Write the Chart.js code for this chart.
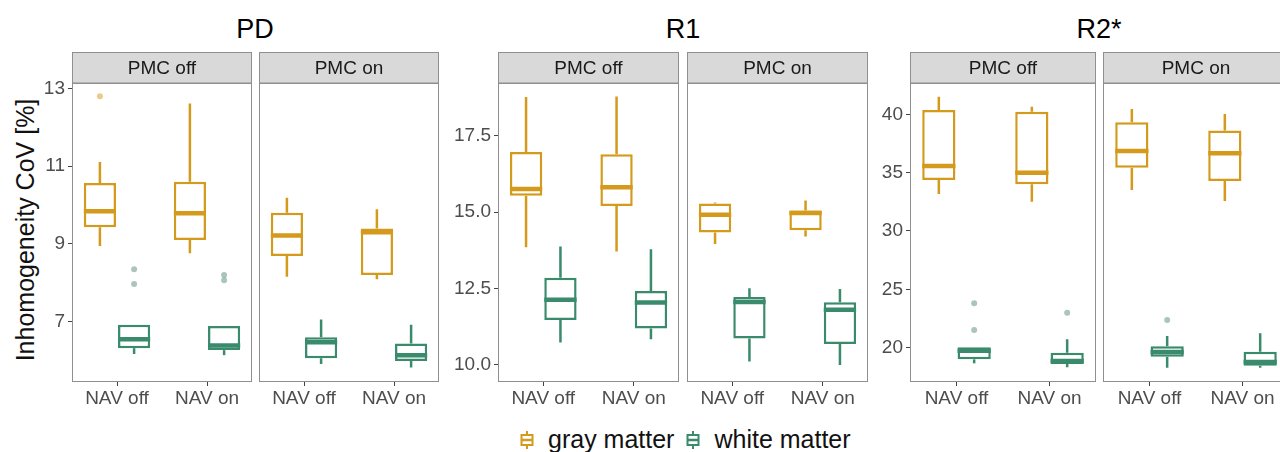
<!DOCTYPE html>
<html>
<head>
<meta charset="utf-8">
<script src="https://cdn.jsdelivr.net/npm/chart.js@4.4.1/dist/chart.umd.min.js"></script>
<style>
  html, body { margin: 0; padding: 0; background: #fff; overflow: hidden; }
  body { width: 1280px; height: 452px; position: relative; font-family: "Liberation Sans", Arial, sans-serif; }
  .panel { position: absolute; }
  .title { position: absolute; top: 14px; font-size: 27px; color: #000; transform: translateX(-50%); white-space: nowrap; }
  .ytitle { position: absolute; left: 25px; top: 230px; font-size: 25px; color: #111; white-space: nowrap;
            transform: translate(-50%, -50%) rotate(-90deg); }
  .legend { position: absolute; left: 520px; top: 425px; display: flex; align-items: center; font-size: 25px; color: #111; white-space: nowrap; }
  .legend svg { margin-right: 14px; }
  .legend span { margin-right: 12px; }
</style>
</head>
<body>
<div class="title" style="left:255px">PD</div>
<div class="title" style="left:683px">R1</div>
<div class="title" style="left:1099px">R2*</div>
<div class="ytitle">Inhomogeneity CoV [%]</div>
<div class="legend" id="legend"></div>

<script>
const categories = ['NAV off', 'NAV on'];
const facets = ['PMC off', 'PMC on'];
const seriesNames = ['gray matter', 'white matter'];
const seriesColors = ['#D49A1C', '#3A8A6C'];
const outlierColors = ['rgba(212,154,28,0.5)', 'rgba(90,140,120,0.5)'];

// box stats per category: [lower whisker, Q1, median, Q3, upper whisker]
const pdGrayPmcOff = [[8.95, 9.43, 9.84, 10.57, 11.11], [8.76, 9.10, 9.79, 10.60, 12.61]];
const pdWhitePmcOff = [[6.17, 6.32, 6.55, 6.92, 6.92], [6.14, 6.27, 6.39, 6.89, 6.89]];
const pdGrayPmcOn = [[8.16, 8.69, 9.22, 9.80, 10.19], [8.09, 8.20, 9.30, 9.40, 9.89]];
const pdWhitePmcOn = [[5.91, 6.06, 6.47, 6.60, 7.06], [5.82, 5.99, 6.14, 6.44, 6.92]];
const pdGrayOutPmcOff = [[12.80], []];
const pdWhiteOutPmcOff = [[8.35, 7.97], [8.20, 8.07]];

const r1GrayPmcOff = [[13.85, 15.53, 15.75, 16.96, 18.76], [13.71, 15.20, 15.81, 16.89, 18.78]];
const r1WhitePmcOff = [[10.73, 11.47, 12.13, 12.85, 13.87], [10.84, 11.19, 12.04, 12.42, 13.78]];
const r1GrayPmcOn = [[13.95, 14.33, 14.91, 15.28, 15.31], [14.20, 14.40, 14.97, 15.05, 15.38]];
const r1WhitePmcOn = [[10.11, 10.86, 12.06, 12.22, 12.51], [10.0, 10.68, 11.80, 12.05, 12.48]];

const r2GrayPmcOff = [[33.17, 34.37, 35.57, 40.37, 41.51], [32.51, 34.0, 35.0, 40.22, 40.65]];
const r2WhitePmcOff = [[18.66, 19.0, 19.74, 20.03, 20.03], [18.32, 18.60, 18.85, 19.57, 20.72]];
const r2GrayPmcOn = [[33.51, 35.42, 36.86, 39.31, 40.45], [32.57, 34.28, 36.66, 38.60, 40.03]];
const r2WhitePmcOn = [[18.29, 19.23, 19.63, 20.12, 21.0], [18.29, 18.45, 18.77, 19.66, 21.23]];
const r2WhiteOutPmcOff = [[23.80, 21.52], [23.0]];
const r2WhiteOutPmcOn = [[22.37], []];
const noOutliers = [[], []];

const pdTicks = [7, 9, 11, 13];
const r1Ticks = [10, 12.5, 15, 17.5];
const r2Ticks = [20, 25, 30, 35, 40];
const pdRange = [5.45, 13.14];
const r1Range = [9.44, 19.22];
const r2Range = [17.06, 42.68];

const AXIS_W = 60;
const PLOT_TOP = 52, PLOT_H = 330, XAXIS_H = 40;
const FONT = '"Liberation Sans", Arial, sans-serif';

const panels = [
  { left: 72, width: 180, facet: 0, axis: true, ticks: pdTicks, range: pdRange, dec: 0,
    stats: [pdGrayPmcOff, pdWhitePmcOff], outliers: [pdGrayOutPmcOff, pdWhiteOutPmcOff] },
  { left: 259, width: 180, facet: 1, axis: false, ticks: pdTicks, range: pdRange, dec: 0,
    stats: [pdGrayPmcOn, pdWhitePmcOn], outliers: [noOutliers, noOutliers] },
  { left: 498, width: 181, facet: 0, axis: true, ticks: r1Ticks, range: r1Range, dec: 1,
    stats: [r1GrayPmcOff, r1WhitePmcOff], outliers: [noOutliers, noOutliers] },
  { left: 687, width: 181, facet: 1, axis: false, ticks: r1Ticks, range: r1Range, dec: 1,
    stats: [r1GrayPmcOn, r1WhitePmcOn], outliers: [noOutliers, noOutliers] },
  { left: 910, width: 186, facet: 0, axis: true, ticks: r2Ticks, range: r2Range, dec: 0,
    stats: [r2GrayPmcOff, r2WhitePmcOff], outliers: [noOutliers, r2WhiteOutPmcOff] },
  { left: 1103, width: 186, facet: 1, axis: false, ticks: r2Ticks, range: r2Range, dec: 0,
    stats: [r2GrayPmcOn, r2WhitePmcOn], outliers: [noOutliers, r2WhiteOutPmcOn] }
];

// strip on top, panel frame, whiskers, medians and outliers
const facetPlugin = {
  id: 'facet',
  beforeDraw(chart, args, opts) {
    const { ctx, chartArea: a } = chart;
    ctx.save();
    ctx.fillStyle = '#d9d9d9';
    ctx.fillRect(a.left, 0, a.right - a.left, a.top);
    ctx.strokeStyle = '#8f8f8f';
    ctx.lineWidth = 1;
    ctx.strokeRect(a.left + 0.5, 0.5, a.right - a.left - 1, a.top - 0.5);
    ctx.fillStyle = '#1a1a1a';
    ctx.font = '19px ' + FONT;
    ctx.textAlign = 'center';
    ctx.textBaseline = 'middle';
    ctx.fillText(opts.label, (a.left + a.right) / 2, a.top / 2 + 1);
    ctx.restore();
  },
  afterDatasetsDraw(chart) {
    const ctx = chart.ctx, ys = chart.scales.y;
    chart.data.datasets.forEach((ds, di) => {
      const meta = chart.getDatasetMeta(di);
      meta.data.forEach((bar, i) => {
        const [lo, q1, med, q3, hi] = ds.stats[i];
        const x = bar.x, half = bar.width / 2;
        ctx.save();
        ctx.strokeStyle = ds.borderColor;
        ctx.lineWidth = 2.5;
        ctx.beginPath();
        ctx.moveTo(x, ys.getPixelForValue(q3));
        ctx.lineTo(x, ys.getPixelForValue(hi));
        ctx.moveTo(x, ys.getPixelForValue(q1));
        ctx.lineTo(x, ys.getPixelForValue(lo));
        ctx.stroke();
        ctx.lineWidth = 4.5;
        ctx.beginPath();
        ctx.moveTo(x - half, ys.getPixelForValue(med));
        ctx.lineTo(x + half, ys.getPixelForValue(med));
        ctx.stroke();
        ctx.fillStyle = ds.outlierColor;
        ds.outliers[i].forEach(v => {
          ctx.beginPath();
          ctx.arc(x, ys.getPixelForValue(v), 3, 0, Math.PI * 2);
          ctx.fill();
        });
        ctx.restore();
      });
    });
  },
  afterDraw(chart) {
    const { ctx, chartArea: a } = chart;
    ctx.save();
    ctx.strokeStyle = '#8f8f8f';
    ctx.lineWidth = 1;
    ctx.strokeRect(a.left + 0.5, a.top + 0.5, a.right - a.left - 1, a.bottom - a.top - 1);
    ctx.restore();
  }
};

panels.forEach(p => {
  const div = document.createElement('div');
  div.className = 'panel';
  const axisW = p.axis ? AXIS_W : 0;
  div.style.left = (p.left - axisW) + 'px';
  div.style.top = PLOT_TOP + 'px';
  div.style.width = (p.width + axisW) + 'px';
  div.style.height = (PLOT_H + XAXIS_H) + 'px';
  const canvas = document.createElement('canvas');
  div.appendChild(canvas);
  document.body.appendChild(div);

  new Chart(canvas, {
    type: 'bar',
    data: {
      labels: categories,
      datasets: seriesNames.map((name, si) => ({
        label: name,
        data: p.stats[si].map(s => [s[1], s[3]]),
        stats: p.stats[si],
        outliers: p.outliers[si],
        backgroundColor: '#ffffff',
        borderColor: seriesColors[si],
        outlierColor: outlierColors[si],
        borderWidth: 2.5,
        borderSkipped: false,
        categoryPercentage: 0.76,
        barPercentage: 0.94
      }))
    },
    options: {
      responsive: true,
      maintainAspectRatio: false,
      animation: false,
      layout: { padding: { top: 31, left: 0, right: 0, bottom: 0 } },
      plugins: {
        legend: { display: false },
        tooltip: { enabled: false },
        facet: { label: facets[p.facet] }
      },
      scales: {
        x: {
          offset: true,
          grid: { offset: false, drawOnChartArea: false, drawTicks: true, tickLength: 4, color: '#444' },
          border: { display: false },
          ticks: { color: '#4d4d4d', padding: 1, maxRotation: 0, minRotation: 0, autoSkip: false,
                   font: { size: 19, family: FONT } },
          afterFit: s => { s.height = XAXIS_H; }
        },
        y: {
          display: p.axis,
          min: p.range[0],
          max: p.range[1],
          grid: { drawOnChartArea: false, drawTicks: true, tickLength: 4, color: '#444' },
          border: { display: false },
          afterBuildTicks: s => { s.ticks = p.ticks.map(v => ({ value: v })); },
          ticks: {
            color: '#4d4d4d', padding: 3,
            font: { size: 19, family: FONT },
            callback: v => Number(v).toFixed(p.dec)
          },
          afterFit: s => { s.width = axisW; }
        }
      }
    },
    plugins: [facetPlugin]
  });
});

// legend with boxplot glyphs
const legend = document.getElementById('legend');
seriesNames.forEach((name, si) => {
  const c = seriesColors[si];
  legend.insertAdjacentHTML('beforeend',
    '<svg width="14" height="20" viewBox="0 0 14 20">' +
    '<line x1="7" y1="1" x2="7" y2="19" stroke="' + c + '" stroke-width="2"/>' +
    '<rect x="1.5" y="5" width="11" height="10" fill="#fff" stroke="' + c + '" stroke-width="2"/>' +
    '<line x1="1.5" y1="10" x2="12.5" y2="10" stroke="' + c + '" stroke-width="2.5"/>' +
    '</svg><span>' + name + '</span>');
});
</script>
</body>
</html>
